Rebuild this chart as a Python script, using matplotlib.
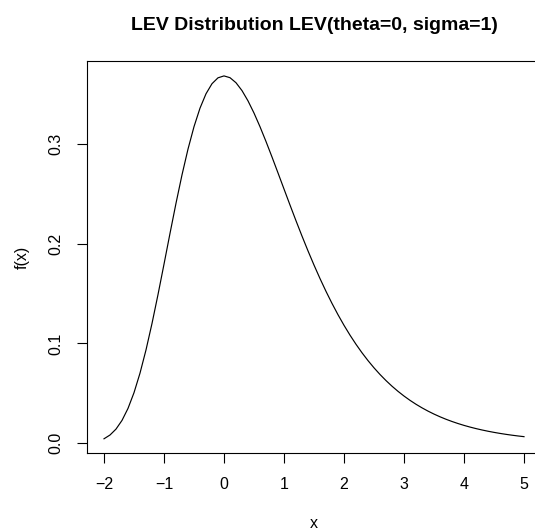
import matplotlib
matplotlib.use("Agg")
import matplotlib.pyplot as plt

plt.rcParams['font.family'] = ['Liberation Sans', 'DejaVu Sans']

title = "LEV Distribution LEV(theta=0, sigma=1)"
x_label = "x"
y_label = "f(x)"

x_start, x_step = -2.0, 0.1
density = [
    0.004566, 0.008347, 0.014269, 0.022962, 0.034978, 0.050707, 0.070285, 0.093545,
    0.12002, 0.14895, 0.179374, 0.21022, 0.24038, 0.26881, 0.29460, 0.31705,
    0.33560, 0.34999, 0.36009, 0.36598, 0.367879, 0.36610, 0.36105, 0.35317,
    0.34290, 0.33070, 0.31701, 0.30222, 0.28670, 0.27075, 0.254646, 0.23862,
    0.22286, 0.20752, 0.19270, 0.17851, 0.16499, 0.15218, 0.14011, 0.12879,
    0.11820, 0.10834, 0.09918, 0.09069, 0.08285, 0.07562, 0.06896, 0.06284,
    0.05722, 0.05208, 0.04737, 0.04306, 0.03913, 0.03555, 0.03228, 0.02930,
    0.02659, 0.02412, 0.02188, 0.01984, 0.01798, 0.01630, 0.01477, 0.01339,
    0.01213, 0.01099, 0.00995, 0.00901, 0.00816, 0.00739, 0.00669,
]
x_vals = [round(x_start + i * x_step, 2) for i in range(len(density))]
x_ticks = [-2, -1, 0, 1, 2, 3, 4, 5]
y_ticks = [0.0, 0.1, 0.2, 0.3]
y_ticklabels = ["0.0", "0.1", "0.2", "0.3"]

W, H, DPI = 535, 531, 100
fig = plt.figure(figsize=(W / DPI, H / DPI), dpi=DPI)
ax = fig.add_axes([87.2 / W, 77.7 / H, 453.6 / W, 391.9 / H])

ax.plot(x_vals, density, color="black", lw=0.85)
ax.margins(x=0.04, y=0.04)

ax.set_xticks(x_ticks)
ax.set_xticklabels([str(t).replace("-", "\u2212") for t in x_ticks])
ax.set_yticks(y_ticks)
ax.set_yticklabels(y_ticklabels, rotation=90, va="center")
ax.tick_params(axis="both", length=7.2, width=0.8, labelsize=11.5, pad=10, color="black")

for s in ax.spines.values():
    s.set_linewidth(0.8)
    s.set_color("black")

ax.set_title(title, fontsize=14.0, fontweight="bold", pad=22.7)

ax.set_xlabel(x_label, fontsize=11.5)
ax.xaxis.label.set_va("baseline")
ax.xaxis.set_label_coords(0.5, -(528 - 453.3) / 391.9)

ax.set_ylabel(y_label, fontsize=11.5)
ax.yaxis.label.set_va("baseline")
ax.yaxis.set_label_coords((26.5 - 87.2) / 453.6, 0.5)

fig.savefig("out.png", dpi=DPI)
